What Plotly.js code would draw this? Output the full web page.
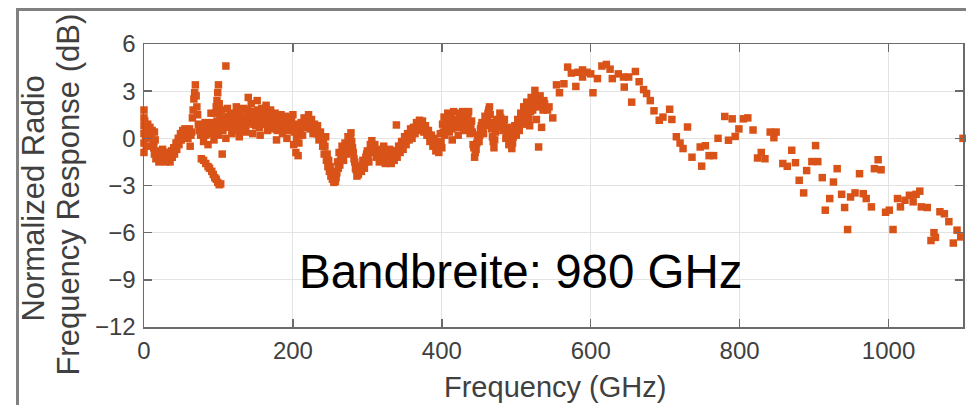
<!DOCTYPE html>
<html>
<head>
<meta charset="utf-8">
<script src="https://cdn.plot.ly/plotly-3.0.1.min.js"></script>
<style>
  html, body { margin: 0; padding: 0; background: #ffffff; }
  #chart { width: 966px; height: 405px; }
</style>
</head>
<body>
<div id="chart"></div>
<script>
// Measured normalized RF response (dB) versus frequency (GHz).

// 0 - 76 GHz: edge column, first trough and the narrow spike near 70 GHz
const edgeFreq = [
  0, 0, 0, 0, 0, 0, 1, 2, 3, 3, 5, 6, 8, 9, 11, 12, 14, 15,
  13, 14, 16, 17, 19, 20, 22, 24, 25, 27, 29, 30, 32, 34, 35, 37, 38, 40, 41,
  43, 44, 46, 47, 49, 50, 52, 53, 55, 56, 58, 59, 61, 62,
  64, 65, 66, 67, 68, 69, 70, 71, 72, 73, 74, 75, 76
];
const edgeDb = [
  1.8, 1.3, 0.8, 0.3, -0.3, -0.9, 1.1, 0.0, 0.6, -0.5, 0.9, 0.3, 0.7, 0.1, 0.5, -0.2, 0.4, -0.1,
  -0.6, -1.0, -1.3, -0.8, -1.2, -1.5, -1.0, -1.4, -0.7, -1.2, -1.5, -0.9, -1.3, -1.1, -1.5, -0.8, -1.2, -0.6, -1.0,
  -0.3, -0.7, 0.0, -0.4, 0.3, -0.1, 0.5, 0.1, 0.6, 0.2, 0.4, 0.0, 0.6, -0.5,
  0.4, 1.3, 1.8, 2.5, 2.9, 3.4, 2.7, 2.0, 1.5, 0.9, 0.5, 0.8, 0.2
];
const edgeFillFreq = [
  10, 13, 15, 18, 21, 23, 26, 28, 31, 33, 36, 39, 42, 45, 48, 51, 54, 57, 60, 63
];
const edgeFillDb = [
  0.3, -0.2, -0.9, -1.1, -1.3, -1.2, -1.0, -1.3, -1.2, -0.9, -1.2, -0.9, -0.7, -0.3, -0.1, 0.2, 0.3, 0.5, 0.3, 0.2
];

// 77 - 110 GHz: falling branch, second spike and outliers
const branchFreq = [
  77, 80, 83, 86, 88, 91, 93, 95, 97, 99, 101, 103,
  96, 97, 98, 99, 100, 101, 102, 105, 110
];
const branchDb = [
  -1.3, -1.4, -1.6, -1.8, -1.9, -2.1, -2.3, -2.5, -2.6, -2.8, -2.95, -2.9,
  1.6, 2.0, 2.4, 2.9, 3.4, 2.2, 1.4, -1.0, 4.6
];

// 78 - 199 GHz: dense band
const bandFreq = [
  78, 80, 82, 84, 86, 88, 90, 92, 94, 96,
  98, 100, 102, 104, 106, 108, 110, 112, 114, 116,
  118, 120, 122, 124, 126, 128, 130, 132, 134, 136,
  138, 140, 142, 144, 146, 148, 150, 152, 154, 156,
  158, 160, 162, 164, 166, 168, 170, 172, 174, 176,
  178, 180, 182, 184, 186, 188, 190, 192, 194, 196,
  198
];
const bandDb = [
  0.6, -0.2, 1.0, 0.3, -0.4, 0.9, 1.6, 0.4, -0.1, 0.7,
  1.1, 0.2, 0.8, 1.8, 0.5, 1.3, 0.0, 1.9, 0.9, 1.5,
  0.3, 1.2, 0.6, 2.0, 1.0, 0.1, 1.6, 0.7, 1.9, 0.4,
  1.3, 2.6, 1.0, 2.2, 0.3, 1.7, 0.8, 2.4, 1.2, 0.2,
  1.9, 0.9, 1.5, 2.1, 0.5, 1.3, 1.8, 0.6, 1.1, 1.6,
  -0.1, 1.2, 0.7, 1.5, 0.3, 1.0, 1.4, 0.0, 1.1, 0.6,
  1.3
];
const bandFillFreq = [
  79, 81, 83, 85, 87, 89, 91, 93, 95, 97,
  99, 101, 103, 105, 107, 109, 111, 113, 115, 117,
  119, 121, 123, 125, 127, 129, 131, 133, 135, 137,
  139, 141, 143, 145, 147, 149, 151, 153, 155, 157,
  159, 161, 163, 165, 167, 169, 171, 173, 175, 177,
  179, 181, 183, 185, 187, 189, 191, 193, 195, 197,
  199
];
const bandFillDb = [
  0.3, 0.5, 0.2, 0.6, 0.4, 0.3, 1.0, 0.8, 0.4, 0.3,
  0.6, 0.9, 1.2, 1.0, 0.9, 0.7, 1.2, 1.4, 1.1, 0.8,
  0.7, 1.6, 1.4, 1.5, 0.5, 1.1, 1.2, 1.3, 1.0, 0.8,
  1.8, 1.5, 1.7, 1.2, 0.9, 1.2, 1.6, 1.8, 0.7, 1.0,
  1.4, 1.2, 1.9, 1.6, 0.9, 1.6, 1.3, 1.0, 1.4, 0.8,
  0.5, 0.9, 1.1, 1.0, 0.6, 1.2, 0.7, 0.5, 0.8, 0.9,
  0.8
];

// 200 - 549 GHz: oscillating middle section
const midFreq = [
  200, 201, 203, 204, 206, 207, 209, 211, 213, 215,
  217, 219, 221, 223, 225, 227, 229, 231, 233, 235,
  237, 240, 242, 244, 245, 247, 249, 251, 253, 255,
  257, 259, 260, 262, 263, 265, 266, 268, 270, 272,
  274, 276, 278, 280, 282, 284, 286, 288, 290, 292,
  294, 296, 298, 300, 302, 304, 306, 308, 310, 312,
  314, 316, 318, 320, 322, 324, 326, 328, 330, 332,
  334, 336, 338, 339, 340, 342, 344, 346, 348, 350,
  352, 354, 356, 358, 360, 362, 364, 366, 368, 370,
  372, 374, 376, 378, 380, 382, 384, 386, 388, 390,
  392, 394, 396, 398, 400, 401, 403, 404, 406, 408,
  410, 412, 414, 416, 418, 420, 422, 424, 426, 428,
  430, 432, 434, 436, 438, 440, 442, 444, 446, 448,
  450, 452, 454, 456, 458, 460, 462, 464, 466, 468,
  470, 472, 474, 476, 478, 480, 482, 484, 486, 488,
  490, 492, 494, 496, 498, 500, 502, 504, 506, 508,
  510, 512, 514, 516, 518, 520, 522, 524, 525, 527,
  528, 530, 531, 532, 534, 535, 537, 540, 544, 549
];
const midDb = [
  1.5, -0.4, 0.9, -0.9, 0.3, -1.1, 0.5, 1.0, 0.2, 1.3,
  0.7, 1.1, 1.5, 0.6, 1.2, 0.3, 0.9, 0.5, 0.8, -0.1,
  0.4, -0.5, -1.0, 0.1, -1.4, -1.8, -2.1, -2.4, -2.6, -2.8,
  -2.75, -2.2, -1.5, -0.9, -1.7, -1.2, -0.5, -1.4, -0.3, -1.0,
  0.1, -0.4, 0.35, -0.6, -1.3, -1.9, -2.4, -2.3, -1.8, -2.1,
  -1.4, -1.9, -1.2, -0.8, -1.5, -0.4, -0.15, -0.9, -0.4, -1.2,
  -0.7, -1.5, -0.9, -1.3, -0.5, -1.6, -1.0, -1.4, -0.7, -1.6,
  -1.1, -1.4, -0.8, 0.85, -1.2, -0.5, -0.9, -0.2, -0.7, 0.1,
  -0.4, 0.3, -0.1, 0.6, 0.0, 0.7, 0.3, 1.0, 0.5, 1.15,
  0.6, 1.1, 0.4, 0.8, 0.2, 0.5, -0.2, 0.2, -0.5, 0.0,
  -0.8, -0.4, -0.9, 0.3, -0.6, 0.9, 1.35, 0.2, 1.0, 1.6,
  0.4, 1.3, -0.1, 1.7, 0.8, 1.2, 0.2, 1.6, 0.9, 1.7,
  0.5, 1.3, 1.0, 1.7, 0.3, 1.1, -0.4, -1.2, -0.7, 0.2,
  -0.2, 0.6, 1.0, 0.3, 1.4, 0.8, 1.6, 2.0, 1.0, 0.1,
  -0.6, 0.4, 1.2, 0.8, 1.6, 1.1, 0.5, 1.2, 0.0, 0.7,
  -0.4, 0.3, -0.65, 0.1, 0.8, 0.2, 1.2, 0.5, 1.6, 0.9,
  2.0, 1.3, 2.3, 1.5, 0.8, 2.6, 1.8, 2.2, 3.05, 1.2,
  2.6, -0.55, 2.0, 2.7, 0.7, 2.3, 2.4, 1.9, 2.0, 1.3
];
const midFillFreq = [
  202, 205, 208, 210, 212, 214, 216, 218, 220, 222,
  224, 226, 228, 230, 232, 234, 236, 238, 241, 243,
  246, 248, 250, 252, 254, 256, 258, 261, 264, 267,
  269, 271, 273, 275, 277, 279, 281, 283, 285, 287,
  289, 291, 293, 295, 297, 299, 301, 303, 305, 307,
  309, 311, 313, 315, 317, 319, 321, 323, 325, 327,
  329, 331, 333, 335, 337, 341, 343, 345, 347, 349,
  351, 353, 355, 357, 359, 361, 363, 365, 367, 369,
  371, 373, 375, 377, 379, 381, 383, 385, 387, 389,
  391, 393, 395, 397, 399, 402, 405, 407, 409, 411,
  413, 415, 417, 419, 421, 423, 425, 427, 429, 431,
  433, 435, 437, 439, 441, 443, 445, 447, 449, 451,
  453, 455, 457, 459, 461, 463, 465, 467, 469, 471,
  473, 475, 477, 479, 481, 483, 485, 487, 489, 491,
  493, 495, 497, 499, 501, 503, 505, 507, 509, 511,
  513, 515, 517, 519, 521, 523, 526, 529, 533, 536,
  538, 542
];
const midFillDb = [
  0.4, 0.0, -0.3, 0.2, 0.7, 0.9, 1.0, 0.9, 1.2, 1.0,
  0.9, 0.8, 0.6, 0.7, 0.3, 0.3, 0.2, 0.0, -0.2, -0.5,
  -1.0, -1.4, -1.8, -2.1, -2.3, -2.4, -2.5, -1.9, -1.4, -0.9,
  -0.8, -0.6, -0.5, -0.2, 0.0, -0.2, -0.9, -1.5, -2.0, -2.0,
  -2.1, -2.0, -1.7, -1.6, -1.5, -1.0, -1.1, -0.9, -0.6, -0.5,
  -0.7, -0.8, -0.9, -1.1, -1.2, -1.1, -0.9, -1.1, -1.3, -1.2,
  -1.0, -1.2, -1.3, -1.3, -1.1, -0.8, -0.7, -0.5, -0.4, -0.3,
  -0.1, -0.1, 0.1, 0.2, 0.3, 0.4, 0.5, 0.6, 0.8, 0.8,
  0.9, 0.8, 0.7, 0.6, 0.5, 0.3, 0.2, 0.0, -0.1, -0.2,
  -0.4, -0.5, -0.6, -0.3, -0.2, 0.4, 0.6, 0.8, 1.0, 0.9,
  0.6, 0.8, 1.2, 1.0, 0.7, 0.9, 1.2, 1.3, 1.1, 0.9,
  1.2, 1.3, 1.0, 0.7, 0.4, -0.6, -0.9, -0.3, 0.0, 0.2,
  0.8, 0.6, 0.9, 1.1, 1.2, 1.8, 1.5, 0.6, -0.2, -0.1,
  0.8, 1.0, 1.2, 1.3, 0.8, 0.9, 0.6, 0.4, 0.2, -0.1,
  -0.2, -0.3, 0.4, 0.5, 0.7, 0.8, 1.1, 1.3, 1.4, 1.7,
  1.8, 1.9, 1.2, 1.7, 2.2, 2.0, 2.4, 2.2, 2.3, 1.8,
  2.2, 1.8
];

// 554 - 1100 GHz: sparser sampling, peak near 620 GHz then roll-off
const highFreq = [
  554, 558, 564, 569, 574, 580, 583, 589, 589, 595,
  600, 603, 609, 615, 621, 626, 629, 637, 644, 645,
  651, 655, 660, 665, 671, 675, 680, 685, 692, 697,
  706, 709, 715, 720, 724, 730, 736, 747, 749, 754,
  759, 765, 771, 780, 785, 790, 794, 799, 805, 811,
  818, 824, 829, 834, 841, 846, 849, 858, 864, 870,
  875, 880, 886, 890, 897, 902, 905, 911, 915, 921,
  926, 931, 937, 941, 945, 949, 955, 961, 966, 970,
  977, 981, 986, 990, 996, 1001, 1006, 1012, 1016, 1022,
  1028, 1033, 1037, 1042, 1044, 1052, 1057, 1061, 1063, 1069,
  1075, 1081, 1087, 1092, 1097, 1100
];
const highDb = [
  3.4, 2.9, 3.47, 4.53, 4.15, 3.3, 4.2, 4.35, 3.9, 4.2,
  4.1, 2.9, 3.8, 4.6, 4.7, 4.4, 3.8, 4.1, 3.9, 3.26,
  3.9, 2.3, 4.25, 3.6, 3.1, 2.85, 2.4, 1.75, 1.15, 1.35,
  1.85, 1.2, 0.1, -0.3, -0.65, 0.72, -1.2, -0.55, -1.77, -0.47,
  -1.1, -1.1, 0.0, 1.39, -0.12, 1.24, 0.12, 0.6, 1.24, 1.3,
  0.53, -1.25, -0.9, -1.3, 0.4, 0.04, 0.4, -1.6, -1.78, -0.76,
  -1.55, -2.67, -3.47, -2.05, -1.48, -0.46, -1.48, -2.5, -4.57, -3.83,
  -2.78, -1.93, -3.56, -4.4, -5.8, -3.73, -3.47, -2.25, -3.52, -3.83,
  -4.36, -1.93, -1.36, -2.0, -4.7, -4.57, -5.8, -3.83, -4.36, -3.94,
  -3.62, -4.04, -3.56, -3.36, -4.36, -4.4, -6.5, -6.0, -6.3, -4.67,
  -4.8, -5.3, -6.66, -5.84, -6.27, 0.0
];

const xTicks = [0, 200, 400, 600, 800, 1000];
const yTicks = [-12, -9, -6, -3, 0, 3, 6];
const bandwidthLabel = 'Bandbreite: 980 GHz';
const xTitle = 'Frequency (GHz)';
const yTitleLines = ['Normalized Radio', 'Frequency Response (dB)'];

const freqGHz = [].concat(edgeFreq, edgeFillFreq, branchFreq, bandFreq, bandFillFreq,
                          midFreq, midFillFreq, highFreq);
const responseDb = [].concat(edgeDb, edgeFillDb, branchDb, bandDb, bandFillDb,
                             midDb, midFillDb, highDb);

const FONT = 'Liberation Sans, Arial, Helvetica, sans-serif';
const AXIS_GRAY = '#6b6b6b';
const TEXT_GRAY = '#404040';

const trace = {
  type: 'scatter',
  mode: 'markers',
  x: freqGHz,
  y: responseDb,
  cliponaxis: false,
  marker: { symbol: 'square', size: 7.5, color: '#D95319', line: { width: 0 } },
  hoverinfo: 'x+y'
};

const axisCommon = {
  ticks: 'inside',
  ticklen: 8,
  tickwidth: 1.5,
  tickcolor: AXIS_GRAY,
  showline: true,
  linecolor: AXIS_GRAY,
  linewidth: 1.5,
  mirror: 'ticks',
  showgrid: true,
  gridcolor: '#e3e3e3',
  gridwidth: 1,
  zeroline: false,
  automargin: false,
  tickfont: { family: FONT, size: 24, color: TEXT_GRAY }
};

// plot area: x 144..963 px, y 44..327 px
const PLOT_L = 144, PLOT_W = 819, PLOT_T = 44, PLOT_H = 283;
const paperX = px => (px - PLOT_L) / PLOT_W;
const paperY = py => 1 - (py - PLOT_T) / PLOT_H;

const layout = {
  width: 966,
  height: 405,
  margin: { l: PLOT_L, r: 966 - PLOT_L - PLOT_W, t: PLOT_T, b: 405 - PLOT_T - PLOT_H, pad: 0 },
  paper_bgcolor: '#ffffff',
  plot_bgcolor: '#ffffff',
  showlegend: false,
  font: { family: FONT, color: TEXT_GRAY },
  xaxis: Object.assign({}, axisCommon, {
    range: [0, 1100],
    tickmode: 'array',
    tickvals: xTicks,
    ticklabelstandoff: 2
  }),
  yaxis: Object.assign({}, axisCommon, {
    range: [-12, 6],
    tickmode: 'array',
    tickvals: yTicks,
    ticklabelstandoff: 2
  }),
  annotations: [
    {
      xref: 'paper', yref: 'paper',
      x: paperX(32.6), y: paperY(199),
      xanchor: 'center', yanchor: 'middle',
      text: yTitleLines[0], textangle: -90, showarrow: false,
      font: { family: FONT, size: 31, color: TEXT_GRAY }
    },
    {
      xref: 'paper', yref: 'paper',
      x: paperX(67.6), y: paperY(195),
      xanchor: 'center', yanchor: 'middle',
      text: yTitleLines[1], textangle: -90, showarrow: false,
      font: { family: FONT, size: 31, color: TEXT_GRAY }
    },
    {
      xref: 'paper', yref: 'paper',
      x: paperX(554.5), y: paperY(387),
      xanchor: 'center', yanchor: 'middle',
      text: xTitle, showarrow: false,
      font: { family: FONT, size: 29, color: TEXT_GRAY }
    },
    {
      xref: 'x', yref: 'y',
      x: 506, y: -8.44,
      xanchor: 'center', yanchor: 'middle',
      text: bandwidthLabel, showarrow: false,
      font: { family: FONT, size: 47.5, color: '#000000' }
    }
  ],
  shapes: [
    {
      type: 'rect', xref: 'paper', yref: 'paper',
      x0: paperX(17.5), x1: 1.2,
      y0: -0.6, y1: paperY(9.5),
      line: { color: '#808080', width: 3 },
      fillcolor: 'rgba(0,0,0,0)',
      layer: 'below'
    }
  ]
};

Plotly.newPlot('chart', [trace], layout, { displayModeBar: false, staticPlot: true });
</script>
</body>
</html>
